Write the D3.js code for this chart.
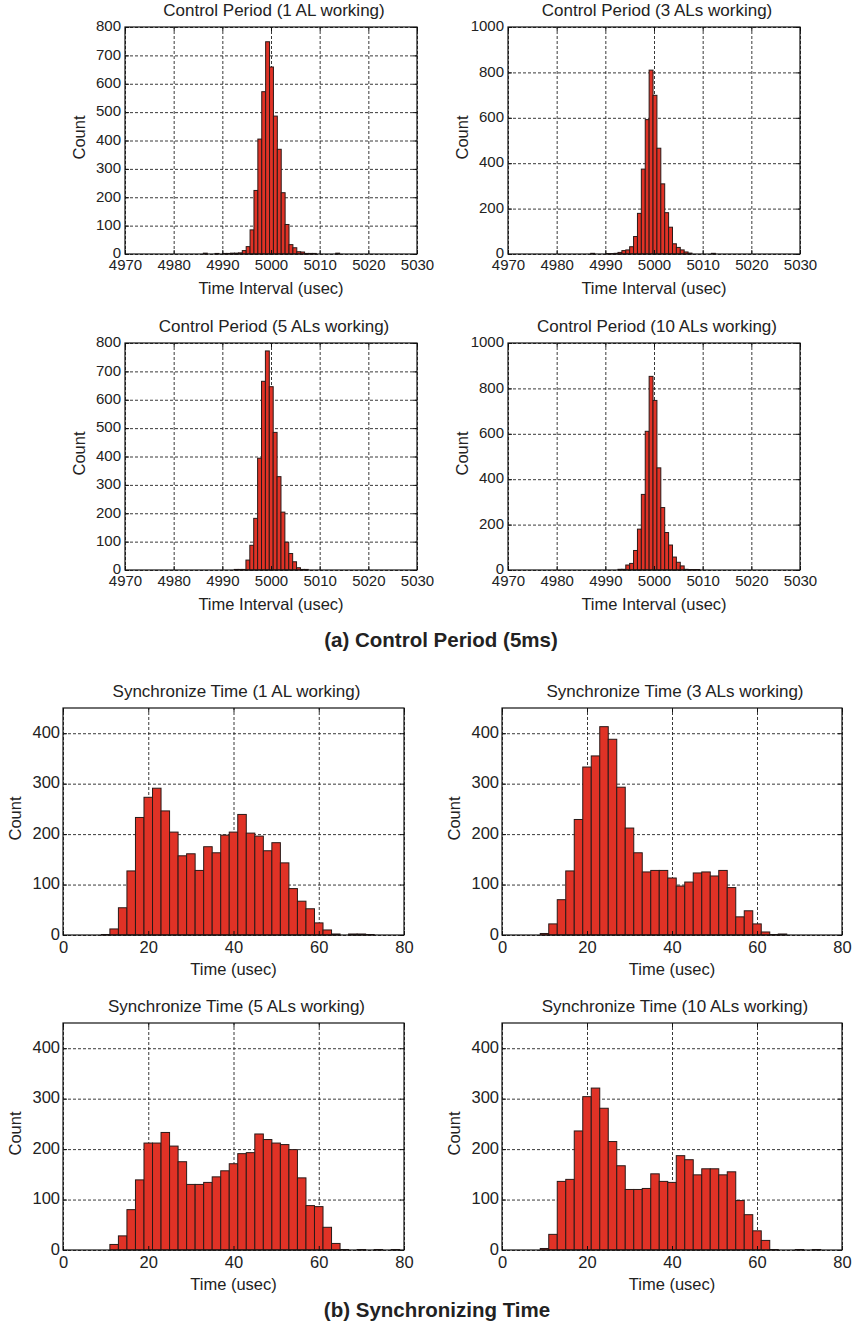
<!DOCTYPE html>
<html>
<head>
<meta charset="utf-8">
<script src="https://cdn.jsdelivr.net/npm/d3@7"></script>
<style>
  body { margin: 0; background: #fff; }
  svg { display: block; font-family: "Liberation Sans", Arial, Helvetica, sans-serif; }
  text { fill: #222; }
</style>
</head>
<body>
<div id="chart"></div>
<script>
// ---- data ----
// control period histograms: bin width 0.8 usec, first bin left edge, counts per bin
const cpBinWidth = 0.8;
const cp1Start = 4986.1;
const cp1Counts = [3, 0, 0, 2, 0, 2, 2, 3, 3, 4, 12, 26, 85, 224, 405, 572, 748, 659, 486, 369,
                   216, 104, 33, 22, 8, 7, 2, 2, 2, 0, 0, 0, 0, 0, 3];
const cp3Start = 4987.0;
const cp3Counts = [3, 0, 0, 0, 2, 2, 3, 7, 15, 18, 32, 77, 179, 374, 592, 810, 699, 466, 309, 182,
                   118, 45, 29, 18, 9, 4, 0, 0, 0, 0, 0, 3];
const cp5Start = 4991.65;
const cp5Counts = [0, 2, 2, 2, 35, 87, 182, 394, 665, 772, 646, 485, 329, 204, 98, 58, 29, 8, 2, 2];
const cp10Start = 4991.8;
const cp10Counts = [0, 3, 3, 22, 29, 86, 180, 333, 611, 853, 747, 450, 275, 165, 110, 57, 34, 18, 3, 2, 2, 2];

// synchronize time histograms: bin width 2 usec starting at 1 usec
const stBinWidth = 2;
const stStart = 1;
const st1Counts = [0, 0, 0, 0, 1, 12, 54, 127, 233, 273, 291, 246, 204, 157, 161, 128, 175, 163, 198, 204,
                   239, 202, 196, 167, 183, 143, 92, 67, 52, 24, 10, 2, 0, 2, 2, 1, 0, 0, 0];
const st3Counts = [0, 0, 0, 0, 3, 22, 70, 127, 229, 333, 355, 413, 388, 293, 212, 163, 125, 128, 128, 113,
                   97, 105, 123, 125, 117, 128, 94, 36, 48, 22, 6, 1, 2, 0, 0, 0, 0, 0, 0];
const st5Counts = [0, 0, 0, 0, 0, 11, 28, 80, 139, 212, 212, 233, 206, 175, 130, 130, 134, 145, 157, 171,
                   191, 193, 230, 219, 212, 209, 199, 143, 88, 86, 45, 13, 1, 0, 1, 0, 1, 0, 1];
const st10Counts = [0, 0, 0, 0, 3, 31, 136, 140, 236, 304, 321, 281, 215, 167, 120, 120, 122, 151, 136, 134,
                    187, 179, 149, 161, 161, 149, 155, 98, 70, 38, 19, 1, 0, 0, 1, 0, 1, 0, 0];

// axes
const cpXTicks = [4970, 4980, 4990, 5000, 5010, 5020, 5030];
const cpYTicks800 = [0, 100, 200, 300, 400, 500, 600, 700, 800];
const cpYTicks1000 = [0, 200, 400, 600, 800, 1000];
const stXTicks = [0, 20, 40, 60, 80];
const stYTicks = [0, 100, 200, 300, 400];

const titles = [
  "Control Period (1 AL working)", "Control Period (3 ALs working)",
  "Control Period (5 ALs working)", "Control Period (10 ALs working)",
  "Synchronize Time (1 AL working)", "Synchronize Time (3 ALs working)",
  "Synchronize Time (5 ALs working)", "Synchronize Time (10 ALs working)"
];

const W = 857, H = 1326;
const svg = d3.select("#chart").append("svg").attr("width", W).attr("height", H);
svg.append("rect").attr("width", W).attr("height", H).attr("fill", "#fff");

// panel layout
const panels = [
  {x: 125, y: 27, w: 292, h: 227, start: cp1Start, bw: cpBinWidth, counts: cp1Counts, xd: [4970, 5030], yd: [0, 800], xt: cpXTicks, yt: cpYTicks800, title: titles[0], xl: "Time Interval (usec)", small: true},
  {x: 508, y: 27, w: 292, h: 227, start: cp3Start, bw: cpBinWidth, counts: cp3Counts, xd: [4970, 5030], yd: [0, 1000], xt: cpXTicks, yt: cpYTicks1000, title: titles[1], xl: "Time Interval (usec)", small: true},
  {x: 125, y: 343, w: 292, h: 227, start: cp5Start, bw: cpBinWidth, counts: cp5Counts, xd: [4970, 5030], yd: [0, 800], xt: cpXTicks, yt: cpYTicks800, title: titles[2], xl: "Time Interval (usec)", small: true},
  {x: 508, y: 343, w: 292, h: 227, start: cp10Start, bw: cpBinWidth, counts: cp10Counts, xd: [4970, 5030], yd: [0, 1000], xt: cpXTicks, yt: cpYTicks1000, title: titles[3], xl: "Time Interval (usec)", small: true},
  {x: 63, y: 708, w: 341, h: 227, start: stStart, bw: stBinWidth, counts: st1Counts, xd: [0, 80], yd: [0, 450], xt: stXTicks, yt: stYTicks, title: titles[4], xl: "Time (usec)", small: false},
  {x: 502, y: 708, w: 340, h: 227, start: stStart, bw: stBinWidth, counts: st3Counts, xd: [0, 80], yd: [0, 450], xt: stXTicks, yt: stYTicks, title: titles[5], xl: "Time (usec)", small: false},
  {x: 63, y: 1023, w: 341, h: 227, start: stStart, bw: stBinWidth, counts: st5Counts, xd: [0, 80], yd: [0, 450], xt: stXTicks, yt: stYTicks, title: titles[6], xl: "Time (usec)", small: false},
  {x: 502, y: 1023, w: 340, h: 227, start: stStart, bw: stBinWidth, counts: st10Counts, xd: [0, 80], yd: [0, 450], xt: stXTicks, yt: stYTicks, title: titles[7], xl: "Time (usec)", small: false}
];

panels.forEach(drawHist);

// captions
svg.append("text").attr("x", 441).attr("y", 647).attr("text-anchor", "middle")
   .style("font-size", "20.5px").style("font-weight", "bold").text("(a) Control Period (5ms)");
svg.append("text").attr("x", 437).attr("y", 1317).attr("text-anchor", "middle")
   .style("font-size", "20.5px").style("font-weight", "bold").text("(b) Synchronizing Time");

function drawHist(p) {
  const g = svg.append("g").attr("transform", `translate(${p.x},${p.y})`);
  const x = d3.scaleLinear().domain(p.xd).range([0, p.w]);
  const y = d3.scaleLinear().domain(p.yd).range([p.h, 0]);
  const tickFont = p.small ? "15px" : "16.5px";

  // dashed grid
  const gx = g.append("g").attr("transform", `translate(0,${p.h})`)
    .call(d3.axisBottom(x).tickValues(p.xt).tickSize(-p.h).tickFormat(""));
  const gy = g.append("g")
    .call(d3.axisLeft(y).tickValues(p.yt).tickSize(-p.w).tickFormat(""));
  [gx, gy].forEach(a => {
    a.select(".domain").remove();
    a.selectAll("line").attr("stroke", "#222").attr("stroke-width", 0.9).attr("stroke-dasharray", "3,2");
  });

  // bars
  const bins = p.counts.map((c, i) => ({x0: p.start + i * p.bw, x1: p.start + (i + 1) * p.bw, c: c}))
    .filter(d => d.c > 0);
  g.selectAll("rect.bar").data(bins).enter().append("rect")
    .attr("class", "bar")
    .attr("x", d => x(d.x0))
    .attr("width", d => x(d.x1) - x(d.x0))
    .attr("y", d => y(d.c))
    .attr("height", d => y(0) - y(d.c))
    .attr("fill", "#e03226")
    .attr("stroke", "#2a1a18")
    .attr("stroke-width", 1);

  // inward ticks on all sides
  const tk = 4;
  const fmt = d3.format("d");
  const bottom = g.append("g").attr("transform", `translate(0,${p.h})`)
    .call(d3.axisBottom(x).tickValues(p.xt).tickFormat(fmt).tickSizeInner(-tk).tickSizeOuter(0).tickPadding(p.small ? 5.5 : 6.5));
  const left = g.append("g")
    .call(d3.axisLeft(y).tickValues(p.yt).tickFormat(fmt).tickSizeInner(-tk).tickSizeOuter(0).tickPadding(p.small ? 4 : 3));
  const top = g.append("g")
    .call(d3.axisTop(x).tickValues(p.xt).tickSizeInner(-tk).tickSizeOuter(0).tickFormat(""));
  const right = g.append("g").attr("transform", `translate(${p.w},0)`)
    .call(d3.axisRight(y).tickValues(p.yt).tickSizeInner(-tk).tickSizeOuter(0).tickFormat(""));
  [bottom, left, top, right].forEach(a => {
    a.select(".domain").remove();
    a.selectAll("line").attr("stroke", "#111");
    a.selectAll("text").style("font-size", tickFont).attr("fill", "#222")
      .style("font-family", "'Liberation Sans', Arial, sans-serif");
  });
  // keep the y "0" clear of the first x label
  left.selectAll("text").attr("dy", "0.25em");

  // frame
  g.append("rect").attr("width", p.w).attr("height", p.h)
    .attr("fill", "none").attr("stroke", "#111").attr("stroke-width", 1.2);

  // title and labels
  g.append("text").attr("x", p.w / 2 + 3).attr("y", -11).attr("text-anchor", "middle")
    .style("font-size", "17px").text(p.title);
  g.append("text").attr("x", p.w / 2).attr("y", p.h + 40).attr("text-anchor", "middle")
    .style("font-size", "16.5px").text(p.xl);
  g.append("text").attr("transform", `translate(${p.small ? -40 : -42},${p.h / 2 - 3}) rotate(-90)`)
    .attr("text-anchor", "middle").style("font-size", "16.5px").text("Count");
}
</script>
</body>
</html>
